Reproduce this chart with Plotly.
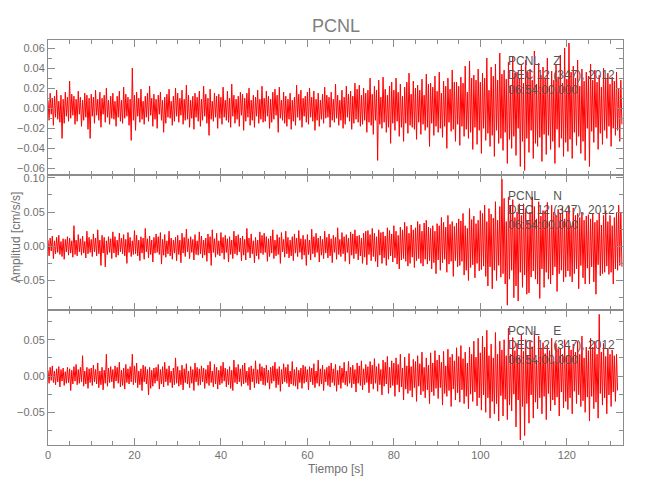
import numpy as np
import plotly.graph_objects as go
from plotly.subplots import make_subplots

# ---- data: amplitudes in 0.001 cm/s/s, one value per 0.25 s ----
DT = 0.25
Z_VALUES = [
    8, -12, 15, -6, 10, -17, 12, -9, 18, -11, 7, -14, 13, -30, 9, -15, 16, -8, 11, -13,
    27, -10, 14, -7, 12, -16, 9, -13, 17, -6, 11, -18, 8, -12, 15, -9, 13, -21, 10, -30,
    14, -8, 11, -15, 18, -7, 9, -12, 16, -19, 10, -6, 13, -14, 20, -9, 8, -16, 12, -10,
    15, -11, 7, -18, 12, -9, 17, -13, 8, -15, 21, -10, 14, -8, 11, -17, 9, -32, 40, -12,
    13, -22, 16, -8, 10, -14, 19, -11, 7, -16, 12, -9, 15, -13, 22, -7, 10, -18, 14, -11,
    9, -20, 13, -6, 16, -12, 8, -24, 11, -15, 14, -9, 19, -10, 7, -17, 12, -13, 20, -8,
    15, -14, 10, -7, 18, -16, 9, -12, 23, -11, 13, -19, 8, -10, 12, -21, 15, -9, 11, -13,
    17, -18, 9, -12, 22, -8, 14, -15, 10, -27, 19, -11, 7, -13, 15, -9, 12, -20, 14, -10,
    11, -16, 21, -9, 8, -12, 17, -14, 10, -19, 24, -8, 13, -15, 9, -11, 12, -18, 16, -7,
    14, -22, 10, -13, 15, -9, 20, -17, 8, -12, 13, -19, 11, -8, 18, -15, 9, -11, 22, -14,
    10, -13, 17, -8, 12, -20, 9, -14, 16, -11, 19, -7, 13, -24, 21, -10, 8, -12, 16, -15,
    12, -18, 9, -11, 15, -21, 8, -13, 11, -17, 23, -9, 14, -12, 18, -19, 10, -8, 12, -14,
    16, -16, 20, -9, 11, -13, 17, -22, 9, -12, 15, -18, 8, -11, 14, -15, 21, -10, 13, -9,
    11, -19, 16, -12, 9, -14, 24, -10, 13, -17, 8, -12, 18, -20, 11, -16, 22, -9, 14, -13,
    17, -21, 12, -15, 25, -11, 19, -14, 23, -18, 13, -16, 20, -12, 15, -24, 18, -14, 30, -17,
    14, -26, 22, -12, 18, -52, 28, -16, 11, -20, 31, -14, 19, -24, 13, -19, 22, -35, 26, -15,
    18, -22, 30, -13, 16, -28, 24, -19, 12, -33, 21, -15, 26, -25, 35, -17, 14, -19, 27, -21,
    20, -31, 23, -14, 18, -26, 29, -16, 13, -22, 34, -19, 24, -38, 25, -15, 21, -27, 32, -18,
    17, -24, 36, -20, 15, -29, 27, -18, 22, -40, 30, -14, 19, -23, 38, -21, 26, -33, 26, -16,
    22, -37, 31, -18, 25, -28, 42, -21, 16, -30, 47, -24, 30, -41, 33, -19, 28, -36, 39, -22,
    26, -45, 35, -20, 30, -32, 50, -25, 18, -38, 41, -27, 32, -48, 44, -22, 28, -35, 55, -30,
    34, -42, 38, -24, 29, -55, 46, -31, 22, -40, 52, -28, 35, -47, 36, -20, 30, -58, 43, -33,
    25, -62, 48, -30, 36, -44, 39, -22, 28, -50, 57, -35, 24, -38, 45, -29, 33, -53, 41, -26,
    30, -46, 50, -27, 22, -41, 37, -33, 28, -55, 44, -21, 31, -39, 53, -30, 25, -48, 60, -34,
    29, -43, 65, -31, 36, -50, 42, -24, 30, -37, 48, -28, 22, -45, 39, -33, 27, -52, 36, -20,
    32, -58, 44, -23, 28, -34, 38, -19, 26, -41, 33, -25, 21, -36, 40, -22, 29, -30, 35, -18,
    24, -38, 31, -20, 27, -27, 36, -22, 19, -33, 28, -16,
]
N_VALUES = [
    9, -14, 12, -7, 15, -18, 8, -11, 13, -9, 16, -12, 7, -15, 11, -19, 10, -8, 14, -13,
    12, -10, 8, -16, 30, -12, 9, -14, 17, -8, 11, -13, 15, -10, 7, -17, 22, -11, 13, -9,
    10, -15, 18, -8, 12, -14, 24, -11, 9, -28, 16, -10, 13, -30, 8, -12, 14, -9, 11, -18,
    21, -10, 14, -16, 9, -13, 19, -8, 12, -11, 17, -14, 10, -25, 20, -9, 13, -15, 8, -12,
    23, -11, 16, -14, 9, -21, 14, -10, 12, -19, 26, -8, 11, -17, 15, -12, 9, -23, 13, -10,
    18, -9, 14, -12, 20, -26, 10, -13, 17, -16, 8, -11, 22, -14, 12, -19, 9, -10, 13, -21,
    16, -12, 9, -24, 19, -10, 13, -15, 25, -8, 11, -18, 14, -9, 10, -20, 17, -12, 8, -13,
    21, -11, 15, -17, 9, -13, 12, -22, 18, -10, 14, -28, 24, -9, 11, -16, 19, -12, 8, -14,
    20, -10, 13, -19, 16, -9, 11, -23, 14, -12, 9, -18, 22, -11, 15, -13, 17, -8, 12, -21,
    15, -13, 10, -20, 26, -9, 12, -17, 18, -11, 8, -24, 13, -14, 9, -19, 21, -10, 16, -12,
    19, -9, 14, -22, 11, -15, 15, -10, 24, -18, 9, -14, 17, -12, 13, -25, 20, -8, 10, -16,
    22, -11, 13, -17, 9, -14, 14, -21, 18, -10, 12, -15, 23, -9, 11, -19, 16, -13, 10, -28,
    17, -12, 9, -20, 25, -11, 14, -16, 19, -9, 12, -23, 15, -13, 10, -18, 22, -10, 13, -17,
    18, -14, 11, -24, 16, -9, 13, -19, 27, -12, 10, -15, 20, -11, 14, -22, 17, -9, 12, -26,
    21, -13, 18, -18, 24, -11, 15, -20, 16, -14, 12, -25, 19, -16, 22, -27, 23, -12, 17, -21,
    26, -15, 19, -22, 14, -30, 24, -13, 20, -25, 21, -17, 15, -28, 27, -19, 23, -14, 18, -23,
    30, -17, 22, -26, 16, -33, 28, -20, 24, -18, 35, -22, 29, -29, 19, -25, 31, -16, 24, -31,
    27, -21, 36, -18, 32, -25, 22, -29, 34, -19, 38, -26, 28, -21, 26, -33, 30, -24, 22, -40,
    33, -20, 30, -35, 42, -24, 35, -19, 28, -38, 45, -26, 32, -22, 36, -44, 29, -21, 34, -30,
    40, -28, 37, -22, 48, -42, 30, -35, 26, -50, 55, -31, 39, -27, 44, -46, 33, -25, 38, -36,
    52, -34, 48, -29, 60, -44, 36, -58, 55, -30, 47, -62, 41, -35, 65, -50, 38, -28, 58, -45,
    98, -40, 70, -55, 36, -86, 72, -48, 60, -35, 68, -75, 42, -58, 50, -80, 62, -38, 45, -60,
    62, -42, 55, -70, 38, -68, 50, -45, 72, -36, 58, -48, 40, -55, 65, -76, 44, -33, 52, -60,
    52, -38, 64, -48, 35, -55, 60, -42, 50, -30, 45, -66, 54, -40, 47, -35, 58, -52, 40, -45,
    50, -36, 58, -44, 30, -52, 56, -40, 45, -33, 48, -62, 42, -28, 50, -46, 38, -55, 44, -32,
    46, -55, 40, -30, 48, -52, 35, -70, 38, -27, 48, -43, 31, -40, 45, -38, 52, -29, 36, -41,
    45, -38, 30, -55, 42, -33, 50, -35, 60, -28, 50, -30,
]
E_VALUES = [
    8, -10, 12, -6, 14, -9, 7, -12, 10, -8, 13, -15, 9, -7, 11, -13, 6, -10, 12, -9,
    10, -20, 8, -11, 13, -7, 16, -12, 9, -10, 12, -8, 28, -14, 7, -11, 12, -17, 10, -9,
    11, -13, 15, -8, 9, -11, 18, -16, 7, -12, 12, -19, 8, -10, 30, -14, 11, -9, 13, -8,
    9, -17, 14, -7, 12, -10, 19, -15, 8, -13, 11, -18, 16, -9, 10, -11, 13, -8, 30, -12,
    14, -9, 18, -16, 7, -12, 10, -20, 15, -8, 13, -11, 9, -26, 12, -17, 8, -14, 11, -10,
    12, -7, 16, -18, 9, -11, 13, -15, 19, -8, 10, -13, 14, -9, 7, -16, 11, -12, 25, -10,
    13, -14, 8, -12, 15, -19, 10, -9, 17, -11, 7, -16, 13, -10, 9, -20, 18, -8, 12, -13,
    10, -12, 14, -8, 11, -17, 9, -10, 15, -13, 20, -9, 7, -15, 16, -11, 12, -18, 8, -12,
    14, -10, 19, -7, 11, -15, 9, -12, 13, -17, 8, -20, 22, -9, 12, -11, 16, -8, 10, -14,
    15, -11, 18, -9, 7, -13, 12, -19, 14, -8, 10, -16, 21, -10, 9, -11, 17, -7, 13, -12,
    11, -13, 15, -9, 8, -18, 12, -10, 14, -7, 19, -16, 10, -12, 13, -21, 9, -11, 17, -8,
    12, -10, 16, -15, 7, -11, 20, -13, 9, -14, 12, -18, 8, -9, 11, -17, 15, -10, 13, -8,
    9, -19, 13, -8, 11, -12, 17, -16, 7, -10, 22, -14, 10, -11, 15, -20, 9, -8, 12, -13,
    14, -15, 18, -9, 10, -13, 16, -21, 8, -12, 14, -17, 11, -9, 19, -12, 7, -14, 20, -10,
    12, -16, 15, -11, 9, -22, 18, -10, 14, -13, 21, -19, 10, -12, 16, -9, 13, -23, 20, -11,
    15, -18, 24, -10, 13, -21, 17, -12, 9, -26, 22, -14, 19, -11, 27, -24, 12, -16, 21, -13,
    18, -28, 25, -12, 16, -22, 30, -15, 11, -33, 26, -18, 14, -24, 31, -20, 13, -29, 23, -16,
    20, -35, 28, -14, 17, -26, 33, -21, 12, -30, 25, -19, 15, -38, 32, -22, 18, -27, 35, -17,
    22, -31, 29, -16, 19, -40, 34, -24, 14, -28, 37, -20, 26, -42, 30, -18, 21, -33, 39, -23,
    27, -36, 42, -19, 24, -38, 33, -28, 18, -45, 40, -25, 30, -35, 48, -22, 26, -41, 52, -30,
    32, -47, 55, -26, 40, -50, 63, -30, 28, -58, 44, -35, 25, -52, 60, -38, 30, -62, 48, -27,
    36, -55, 50, -32, 28, -60, 66, -40, 30, -48, 53, -25, 35, -70, 45, -33, 26, -88, 58, -42,
    34, -82, 50, -38, 29, -65, 48, -26, 40, -58, 62, -36, 22, -45, 55, -30, 38, -52, 46, -28,
    31, -60, 42, -24, 35, -48, 52, -33, 20, -40, 45, -29, 38, -55, 38, -22, 30, -44, 50, -35,
    28, -46, 40, -30, 36, -52, 44, -21, 33, -38, 48, -26, 30, -42, 55, -34, 25, -50, 40, -29,
    35, -62, 52, -28, 40, -45, 48, -36, 30, -58, 85, -24, 33, -40, 45, -30, 27, -52, 38, -26,
    30, -42, 36, -22, 28, -35, 30, -20,
]
CHANNELS = ["Z", "N", "E"]
STATION = "PCNL"
DATE_TEXT = "DEC 12 (347), 2012"
TIME_TEXT = "06:54:00.000"
X_TICKS = [0, 20, 40, 60, 80, 100, 120]

series = [Z_VALUES, N_VALUES, E_VALUES]

GRAY = "#8c8c8c"
TXT = "#707070"
FONT = "Liberation Sans, Arial, sans-serif"

# the page places the figure 8 px in from the top-left corner of the window
OFF = 8
W, H = 650 - OFF, 500 - OFF
ML, MR, MT, MB = 48 - OFF, 27, 40 - OFF, 55
pw, ph = W - ML - MR, H - MT - MB


def py(screen_y):
    """screen pixel row -> paper fraction"""
    return (H - MB - (screen_y - OFF)) / ph


def px(screen_x):
    return (screen_x - OFF - ML) / pw


fig = make_subplots(rows=3, cols=1, shared_xaxes=True, vertical_spacing=0)

for i, vals in enumerate(series):
    y = np.array(vals, dtype=float) * 1e-3
    t = np.arange(len(y)) * DT
    fig.add_trace(go.Scatter(x=t, y=y, mode="lines",
                             line=dict(color="#ff0000", width=1),
                             showlegend=False, hoverinfo="skip"),
                  row=i + 1, col=1)

y_cfg = [
    dict(range=[-0.0665, 0.068], dtick=0.02, minor_dtick=0.01),
    dict(range=[-0.093, 0.104], dtick=0.05, minor_dtick=0.025),
    dict(range=[-0.095, 0.091], dtick=0.05, minor_dtick=0.025),
]
for i, c in enumerate(y_cfg):
    fig.update_yaxes(row=i + 1, col=1, range=c["range"], tick0=0, dtick=c["dtick"],
                     tickformat=".2f", ticks="inside", ticklen=7, tickcolor=GRAY,
                     minor=dict(ticks="inside", dtick=c["minor_dtick"], tick0=0,
                                ticklen=4, tickcolor=GRAY, showgrid=False),
                     showline=True, linecolor=GRAY, linewidth=1, mirror="ticks",
                     showgrid=False, zeroline=False, automargin=False,
                     tickfont=dict(family=FONT, size=11, color=TXT))

fig.update_xaxes(range=[0, 133], tickvals=X_TICKS, ticks="inside", ticklen=7,
                 tickcolor=GRAY,
                 minor=dict(ticks="inside", dtick=5, tick0=0, ticklen=4, tickcolor=GRAY,
                            showgrid=False),
                 showline=True, linecolor=GRAY, linewidth=1, mirror="ticks",
                 showgrid=False, zeroline=False, automargin=False,
                 tickfont=dict(family=FONT, size=11, color=TXT))

annos = []
yrefs = ["y domain", "y2 domain", "y3 domain"]
for i, ch in enumerate(CHANNELS):
    lines = [STATION + "\u00a0\u00a0\u00a0\u00a0" + ch, DATE_TEXT, TIME_TEXT]
    for j, txt in enumerate(lines):
        annos.append(dict(x=106, xref="x", y=1 - (20.5 + 14.5 * j) / 135, yref=yrefs[i],
                          text=txt, showarrow=False, xanchor="left", yanchor="middle",
                          font=dict(family=FONT, size=12, color="#555555")))
annos.append(dict(x=px(16), xref="paper", xanchor="center",
                  y=py(238), yref="paper", yanchor="middle",
                  text="Amplitud [cm/s/s]", showarrow=False, textangle=-90,
                  font=dict(family=FONT, size=12, color=TXT)))
annos.append(dict(x=px(336), xref="paper", xanchor="center",
                  y=py(469), yref="paper", yanchor="middle",
                  text="Tiempo [s]", showarrow=False,
                  font=dict(family=FONT, size=12, color=TXT)))

fig.update_layout(
    width=W, height=H,
    margin=dict(l=ML, r=MR, t=MT, b=MB, autoexpand=False),
    paper_bgcolor="white", plot_bgcolor="white",
    title=dict(text=STATION, x=(336 - OFF) / W, xanchor="center",
               y=1 - (26 - OFF) / H, yanchor="middle", yref="container",
               font=dict(family=FONT, size=18, color="#808080")),
    annotations=annos,
)

fig.write_html("out.html")
